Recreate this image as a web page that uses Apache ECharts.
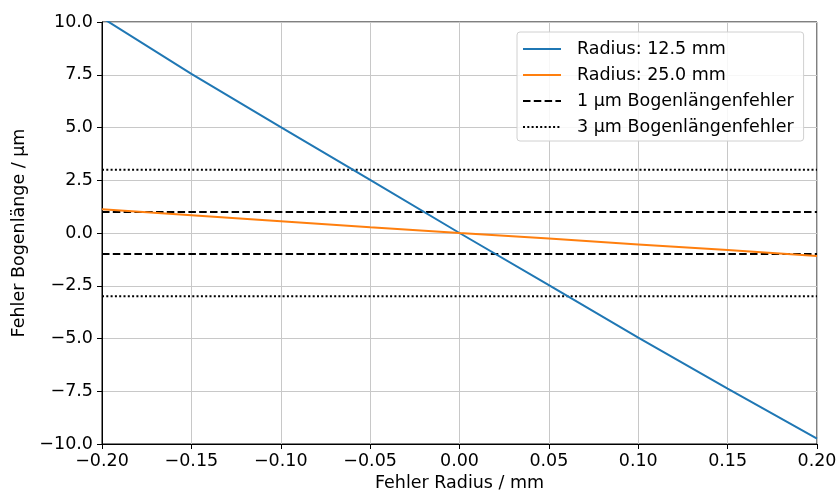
<!DOCTYPE html>
<html>
<head>
<meta charset="utf-8">
<script src="https://cdn.jsdelivr.net/npm/echarts@6/dist/echarts.min.js"></script>
<style>html,body{margin:0;padding:0;background:#fff}#c{width:837px;height:493px}</style>
</head>
<body>
<div id="c"></div>
<script>
// Data
const radiusError = [-0.2, -0.15, -0.1, -0.05, 0, 0.05, 0.1, 0.15, 0.2];
const errR125 = [10.2, 7.54, 5.02, 2.52, 0, -2.47, -4.96, -7.38, -9.74];
const errR250 = [1.12, 0.84, 0.56, 0.27, 0, -0.26, -0.54, -0.81, -1.09];
const limit1 = [1, -1];
const limit3 = [3, -3];
const xRange = [-0.2, 0.2];
const seriesNames = ['Radius: 12.5 mm', 'Radius: 25.0 mm', '1 µm Bogenlängenfehler', '3 µm Bogenlängenfehler'];

const font = 'DejaVu Sans';
const fs = 17.5;
const minus = v => String(v).replace('-', '\u2212');

const series = [
  {name: seriesNames[0], type: 'line', symbol: 'none', color: '#1f77b4',
   lineStyle: {width: 2}, data: radiusError.map((x, i) => [x, errR125[i]]), z: 5},
  {name: seriesNames[1], type: 'line', symbol: 'none', color: '#ff7f0e',
   lineStyle: {width: 2}, data: radiusError.map((x, i) => [x, errR250[i]]), z: 5}
];
limit1.forEach(v => series.push({name: seriesNames[2], type: 'line', symbol: 'none', color: '#000',
  lineStyle: {width: 2, type: [7.5, 3.3]}, data: xRange.map(x => [x, v]), z: 4}));
limit3.forEach(v => series.push({name: seriesNames[3], type: 'line', symbol: 'none', color: '#000',
  lineStyle: {width: 2, type: [2, 2.3]}, data: xRange.map(x => [x, v]), z: 4}));

const chart = echarts.init(document.getElementById('c'), null, {renderer: 'canvas'});
chart.setOption({
  animation: false,
  backgroundColor: '#fff',
  grid: {left: 102, right: 20, top: 22, bottom: 49, outerBoundsMode: 'none', containLabel: false,
         show: true, borderColor: '#000', borderWidth: 1, backgroundColor: 'transparent'},
  legend: {
    data: seriesNames,
    orient: 'vertical', left: 517, top: 32,
    itemWidth: 38, itemHeight: 14, itemGap: 8,
    padding: [8, 10, 5, 5],
    itemStyle: {opacity: 0},
    backgroundColor: 'rgba(255,255,255,0.85)', borderColor: '#d0d0d0', borderWidth: 1, borderRadius: 3,
    textStyle: {fontFamily: font, fontSize: fs, color: '#000', padding: [0, 0, 0, 11]}
  },
  xAxis: {
    type: 'value', min: -0.2, max: 0.2, interval: 0.05,
    name: 'Fehler Radius / mm', nameLocation: 'middle', nameGap: 30,
    nameTextStyle: {fontFamily: font, fontSize: fs, color: '#000'},
    axisLine: {show: true, onZero: false, lineStyle: {color: '#000', width: 1}},
    axisTick: {show: true, length: 5, lineStyle: {color: '#000'}},
    axisLabel: {fontFamily: font, fontSize: fs, color: '#000', margin: 8,
      formatter: v => minus(v.toFixed(2))},
    splitLine: {show: true, lineStyle: {color: '#c8c8c8', width: 1}}
  },
  yAxis: {
    type: 'value', min: -10, max: 10, interval: 2.5,
    name: 'Fehler Bogenlänge / µm', nameLocation: 'middle', nameGap: 74,
    nameTextStyle: {fontFamily: font, fontSize: fs, color: '#000'},
    axisLine: {show: true, onZero: false, lineStyle: {color: '#000', width: 1}},
    axisTick: {show: true, length: 5, lineStyle: {color: '#000'}},
    axisLabel: {fontFamily: font, fontSize: fs, color: '#000', margin: 9,
      formatter: v => minus(v.toFixed(1))},
    splitLine: {show: true, lineStyle: {color: '#c8c8c8', width: 1}}
  },
  series: series
});
</script>
</body>
</html>
